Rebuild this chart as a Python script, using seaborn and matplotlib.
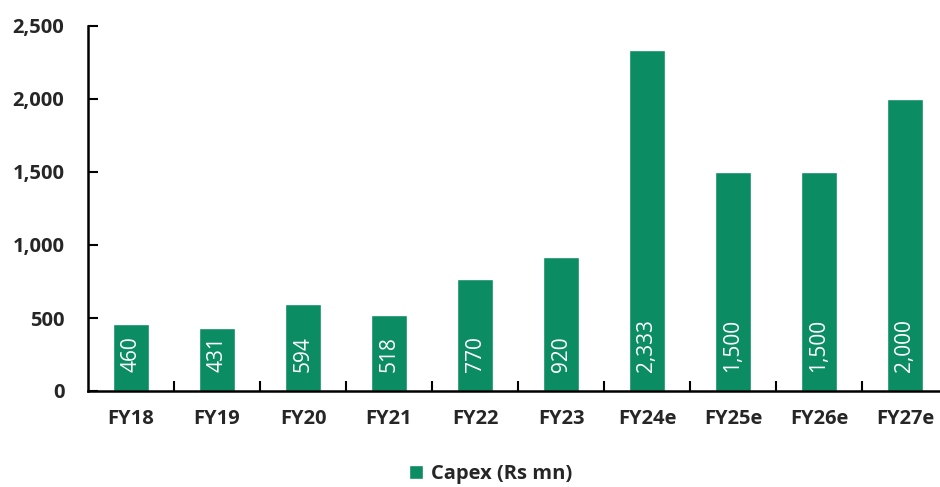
import matplotlib
matplotlib.use("Agg")
import matplotlib.pyplot as plt
import seaborn as sns
import pandas as pd

years = ["FY18", "FY19", "FY20", "FY21", "FY22", "FY23", "FY24e", "FY25e", "FY26e", "FY27e"]
capex = [460, 431, 594, 518, 770, 920, 2333, 1500, 1500, 2000]
series_name = "Capex (Rs mn)"
y_ticks = [0, 500, 1000, 1500, 2000, 2500]

green = "#0B8C63"

sns.set_theme(style="white")
plt.rcParams["font.family"] = ["Open Sans", "DejaVu Sans"]

df = pd.DataFrame({"year": years, "capex": capex, "series": series_name})

fig = plt.figure(figsize=(9.4, 4.87), dpi=100)
ax = fig.add_axes([88 / 940, 96 / 487, 860 / 940, 365 / 487])

sns.barplot(data=df, x="year", y="capex", hue="series", palette=[green],
            width=0.42, dodge=False, saturation=1, ax=ax)

ax.set_xlim(-0.5, len(years) - 0.5)
ax.set_ylim(0, 2500)
ax.set_yticks(y_ticks)
ax.set_yticklabels([f"{v:,}" for v in y_ticks], fontsize=14.5, fontweight="bold")
ax.set_xticks(range(len(years)))
ax.set_xticklabels(years, fontsize=14.5, fontweight="bold")
ax.set_xlabel("")
ax.set_ylabel("")

# category separators on the x axis
ax.set_xticks([i + 0.5 for i in range(len(years) - 1)], minor=True)
ax.tick_params(axis="x", which="major", bottom=False, length=0, pad=13)
ax.tick_params(axis="x", which="minor", bottom=True, direction="in", length=7,
               width=1.5, color="black")
ax.tick_params(axis="y", left=True, direction="in", length=7, width=1.5,
               color="black", pad=17)

for s in ["top", "right"]:
    ax.spines[s].set_visible(False)
for s in ["left", "bottom"]:
    ax.spines[s].set_color("black")
    ax.spines[s].set_linewidth(1.8)

# value labels inside each bar, near the base
for patch, val in zip(ax.patches, capex):
    cx = patch.get_x() + patch.get_width() / 2
    ax.annotate(f"{val:,}", xy=(cx, 0), xytext=(0, 14), textcoords="offset points",
                rotation=90, ha="center", va="bottom", color="white", fontsize=15)

sns.move_legend(ax, "upper center", bbox_to_anchor=(403 / 860, -0.15),
                ncol=1, frameon=False, title=None, fontsize=14.5,
                handlelength=0.7, handleheight=0.7, handletextpad=0.4)
for t in ax.get_legend().get_texts():
    t.set_fontweight("bold")

fig.savefig("out.png", dpi=100)
